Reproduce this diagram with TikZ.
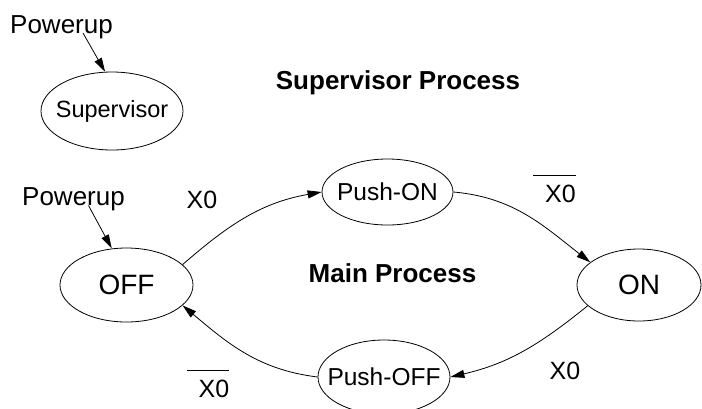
\documentclass[tikz,border=0pt]{standalone}
\usepackage{fontspec}
\setmainfont{Liberation Sans}
\usetikzlibrary{shapes.geometric,arrows.meta}

\newcommand{\notsig}[1]{\vbox{\hrule height 0.8pt\kern 9pt\hbox{\hspace{12pt}#1}}}

\begin{document}
\begin{tikzpicture}[x=1pt, y=1pt,
		stbox/.style={draw, ellipse, inner sep=0pt, line width=0.8pt},
		lbl/.style={anchor=base, inner sep=0pt, font=\fontsize{25}{30}\selectfont},
		heading/.style={anchor=base, inner sep=0pt, font=\fontsize{26}{31}\selectfont\bfseries},
		trans/.style={-{Triangle[length=14pt, width=8pt]}, line width=0.8pt}]
		\useasboundingbox (0, 0) rectangle (702, -408);

		% Supervisor
		\node[lbl, font=\fontsize{26}{31}\selectfont] (pow1) at (61.5, -33){Powerup};
		\node[stbox, minimum width=142pt, minimum height=78pt,
			label={[font=\fontsize{23.5}{28}\selectfont]center:Supervisor}] (sup) at (112, -111){};
		\node[heading] (supproc) at (398, -89){Supervisor Process};

		\draw[trans] ([xshift=21.5pt]pow1.base) -- (sup.100);

		% Main process
		\node[lbl, font=\fontsize{26}{31}\selectfont] (pow2) at (73.5, -205.5){Powerup};
		\node[stbox, minimum width=133pt, minimum height=74pt,
			label={[font=\fontsize{28}{33}\selectfont]center:OFF}] (off) at (126.5, -285){};
		\node[stbox, minimum width=131pt, minimum height=66pt,
			label={[font=\fontsize{24.5}{29}\selectfont]center:Push-ON}] (pushon) at (387.5, -192){};
		\node[stbox, minimum width=124pt, minimum height=72pt,
			label={[font=\fontsize{28}{33}\selectfont]center:ON}] (on) at (639, -285){};
		\node[stbox, minimum width=132pt, minimum height=74pt,
			label={[font=\fontsize{24.5}{29}\selectfont]center:Push-OFF}] (pushoff) at (384, -377){};
		\node[heading] (mainproc) at (392.5, -282){Main Process};

		\draw[trans] ([xshift=15pt]pow2.base) -- (off.112);

		% Transitions
		\node[lbl] (x0a) at (202, -208){X0};
		\node[lbl] (x0b) at (554.5, -202){\notsig{X0}};
		\node[lbl] (x0c) at (565, -379){X0};
		\node[lbl] (x0d) at (208, -397){\notsig{X0}};

		\draw[trans] (off.20) to[out=41, in=190] (pushon.west);
		\draw[trans] (pushon.east) to[out=-5, in=142] (on.155);
		\draw[trans] (on.202) to[out=219, in=13] (pushoff.east);
		\draw[trans] (pushoff.west) to[out=173, in=-40] (off.-20);
	\end{tikzpicture}
\end{document}
